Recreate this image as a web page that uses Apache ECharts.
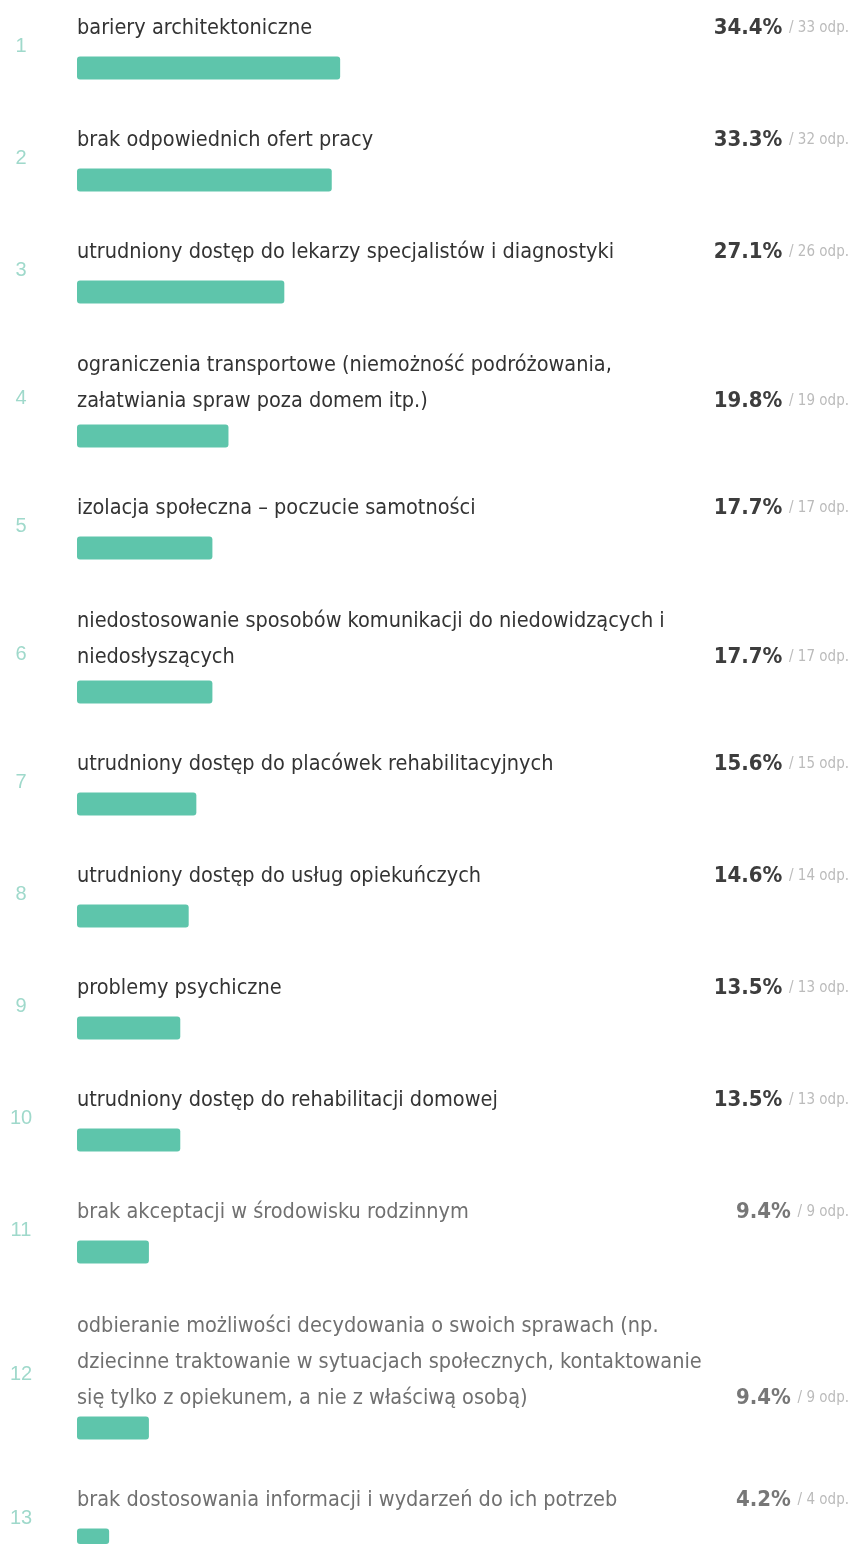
<!DOCTYPE html>
<html>
<head>
<meta charset="utf-8">
<script src="https://cdn.jsdelivr.net/npm/echarts@6/dist/echarts.min.js"></script>
<style>
  html, body { margin: 0; padding: 0; background: #fff; }
  #chart { width: 853px; height: 1544px; }
</style>
</head>
<body>
<div id="chart"></div>
<script>
var labels = [
    'bariery architektoniczne',
    'brak odpowiednich ofert pracy',
    'utrudniony dostęp do lekarzy specjalistów i diagnostyki',
    'ograniczenia transportowe (niemożność podróżowania,\nzałatwiania spraw poza domem itp.)',
    'izolacja społeczna – poczucie samotności',
    'niedostosowanie sposobów komunikacji do niedowidzących i\nniedosłyszących',
    'utrudniony dostęp do placówek rehabilitacyjnych',
    'utrudniony dostęp do usług opiekuńczych',
    'problemy psychiczne',
    'utrudniony dostęp do rehabilitacji domowej',
    'brak akceptacji w środowisku rodzinnym',
    'odbieranie możliwości decydowania o swoich sprawach (np.\ndziecinne traktowanie w sytuacjach społecznych, kontaktowanie\nsię tylko z opiekunem, a nie z właściwą osobą)',
    'brak dostosowania informacji i wydarzeń do ich potrzeb'
];
var percents = [34.4, 33.3, 27.1, 19.8, 17.7, 17.7, 15.6, 14.6, 13.5, 13.5, 9.4, 9.4, 4.2];
var counts = [33, 32, 26, 19, 17, 17, 15, 14, 13, 13, 9, 9, 4];

var chart = echarts.init(document.getElementById('chart'));

var font = '"DejaVu Sans Condensed", sans-serif';
var grids = [], xAxes = [], yAxes = [], series = [], texts = [];
var c = 68;

labels.forEach(function (label, i) {
    var lines = label.split('\n').length;
    if (i > 0) c += 112 + 32 * (lines - 1);
    var faded = i >= 10;

    grids.push({ left: 77, width: 765, top: c - 11.5, height: 23 });
    xAxes.push({ gridIndex: i, type: 'value', min: 0, max: 100, show: false });
    yAxes.push({ gridIndex: i, type: 'category', data: [label], show: false });
    series.push({
        type: 'bar',
        xAxisIndex: i,
        yAxisIndex: i,
        data: [percents[i]],
        barWidth: 23,
        silent: true,
        itemStyle: { color: '#5ec5ab', borderRadius: 3 }
    });

    // first text line centre, the rest go 36px apart
    var first = c - 40 - 31 * (lines - 1);
    texts.push({
        type: 'text', left: 77, top: first - 18,
        style: {
            text: label, font: '21.5px ' + font, lineHeight: 36,
            fill: faded ? '#707070' : '#333'
        }
    });
    texts.push({
        type: 'text', x: 21, y: c - 22 - 16 * (lines - 1),
        style: {
            text: String(i + 1), font: '20px "Liberation Sans", sans-serif',
            fill: '#9fd9cb', align: 'center', verticalAlign: 'middle'
        }
    });
    texts.push({
        type: 'text', x: 849, y: first + 36 * (lines - 1),
        style: {
            text: '{p|' + percents[i].toFixed(1) + '%}  {s|/ ' + counts[i] + ' odp.}',
            align: 'right', verticalAlign: 'middle',
            rich: {
                p: { font: 'bold 22px ' + font, fill: faded ? '#777' : '#3d3d3d' },
                s: { font: '15px ' + font, fill: '#bbb' }
            }
        }
    });
});

chart.setOption({
    animation: false,
    grid: grids,
    xAxis: xAxes,
    yAxis: yAxes,
    series: series,
    graphic: texts
});
</script>
</body>
</html>
